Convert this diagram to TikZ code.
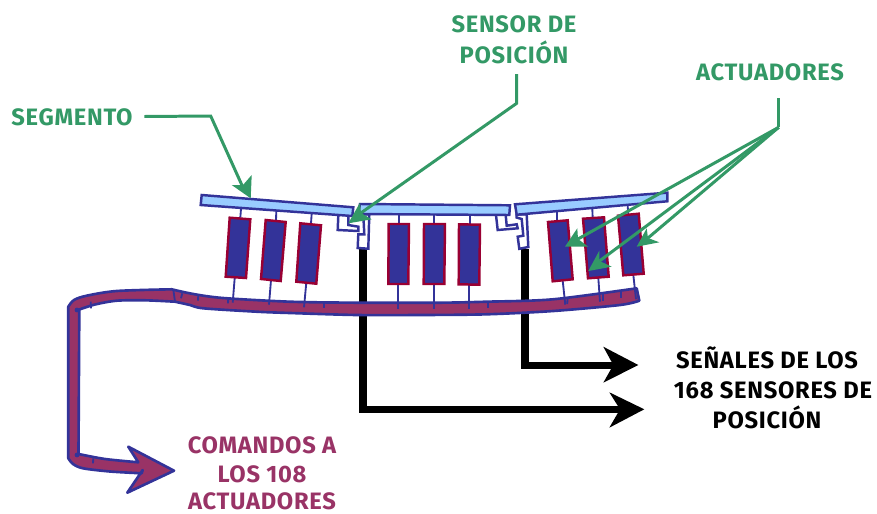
\documentclass[tikz,border=0pt]{standalone}
\usepackage{fontspec}
\setmainfont{Fira Sans}[LetterSpace=3]
\definecolor{gr}{HTML}{339966}
\definecolor{mg}{HTML}{993366}
\definecolor{bl}{HTML}{333399}
\definecolor{rd}{HTML}{990033}
\definecolor{sk}{HTML}{99CCFF}
\tikzset{
  lbl/.style={font=\bfseries\fontsize{13.5}{15}\selectfont,inner sep=0pt,anchor=center},
  greenlbl/.style={lbl,text=gr},
  seg/.style={draw=bl,fill=sk,line width=1.4pt,line join=miter},
  act/.style={draw=rd,fill=bl,line width=1.4pt},
  rod/.style={draw=bl,line width=1.05pt},
  sens/.style={draw=bl,fill=white,line width=1.4pt},
  cable/.style={draw=bl,fill=mg,line width=1.5pt,line join=round},
  tick/.style={draw=bl,line width=1.05pt},
  greenline/.style={draw=gr,line width=1.7pt},
  greenhead/.style={fill=gr,draw=none},
  blackline/.style={draw=black,line width=4.5pt,line join=miter},
}
\begin{document}
\begin{tikzpicture}[x=0.02cm,y=-0.02cm]
\path[use as bounding box,fill=white] (0,0) rectangle (877,514);

% black signal lines (under the cable)
\coordinate (s1) at (363.3,249);
\coordinate (s2) at (525,249);
\coordinate (e1) at (624,409.5);
\coordinate (e2) at (618,365.5);
\draw[blackline] (s1) -- (363.3,409.5) -- (e1);
\draw[blackline] (s2) -- (525,365.5) -- (e2);
\fill[black] (644.3,409.3) -- (609.3,392.3) -- (620,409.3) -- (609.3,427.7) -- cycle;
\fill[black] (638.3,365) -- (603.3,346.7) -- (613.3,365) -- (603.3,382.7) -- cycle;

% cable
\draw[cable] (174,470.7) -- (128.3,446.7) -- (138.3,462.3)
  -- plot[smooth,tension=0.5] coordinates {(138.3,462.3) (105,459) (78.5,454)}
  -- (79.3,309.5)
  -- plot[smooth,tension=0.5] coordinates {(79.3,309.5) (95,304.5) (116.7,300.7) (145,300.3) (175,301.7)}
  -- plot[smooth,tension=0.5] coordinates {(175,301.7) (190,305) (203.3,308.3) (256.7,311.7) (290,313) (356.7,315) (420,315) (486.7,314.3) (553.3,311) (620,305) (639.3,300.7)}
  -- (636.7,288.3)
  -- plot[smooth,tension=0.5] coordinates {(636.7,288.3) (553,299.3) (486.7,301.7) (440,302.7) (356.7,302.7) (290,301.7) (223,298) (193.3,294) (171.7,289.3)}
  -- plot[smooth,tension=0.5] coordinates {(171.7,289.3) (116.7,291) (86.7,295.7) (74,300) (68.3,306.7)}
  -- (68.3,458.3)
  -- plot[smooth,tension=0.5] coordinates {(68.3,458.3) (73,464) (83,468.3) (110,471.5) (141.7,473.3)}
  -- (142.7,470) -- (127.3,492.7) -- cycle;
\draw[tick] (173.3,289.3) -- (175,301.7);
\foreach \xa/\ya/\xb/\yb in {198.3/295/198/300.7, 228.3/297.3/228/303.3, 324.3/301.7/324.3/307.7, 487.7/301.7/487.7/308.3, 567.7/297.3/567.2/304, 603.3/294/603.3/300.7, 620.7/291.7/620.7/298.3, 90.7/301.7/91/308.3, 182.3/293.3/181/298.3, 93.3/458.3/93/463.3}
  \draw[tick] (\xa,\ya) -- (\xb,\yb);
\fill[bl] (77,310) circle (2.4);
\fill[bl] (77,455) circle (2.4);

% rods
\foreach \xa/\ya/\xb/\yb/\xc/\yc/\xd/\yd in {
 241/209/240.3/217.7/234.7/278/232.7/302.7,
 276.3/210.7/276/220.7/271/280/269/304.7,
 311.7/213.3/311/223.3/306.3/282.7/304/307.3,
 399/214.7/399/224/398.3/284/398.3/309.3,
 434/215/434/224/433.7/284/433.7/309,
 469.7/215/469.7/224.3/469.3/285/469.3/309,
 556.7/210.7/556.7/221.3/562.7/280.7/565.3/304.7,
 592.3/208.7/592.7/218/598.3/277.7/600/301.7,
 627.7/206/628.3/214.7/633.3/274.7/636/299.3}{
  \draw[rod] (\xa,\ya) -- (\xb,\yb);
  \draw[rod] (\xc,\yc) -- (\xd,\yd);
}

% actuators
\draw[act] (229.7,217.7) -- (250.3,219.3) -- (246,278) -- (225.7,276.7) -- cycle;
\draw[act] (265.7,220) -- (285.7,222) -- (280.7,281) -- (261,279) -- cycle;
\draw[act] (300.3,223.3) -- (321,225.3) -- (316.3,283.7) -- (296.3,281.7) -- cycle;
\draw[act] (388.7,224) -- (409,224) -- (408.3,284) -- (388.3,284) -- cycle;
\draw[act] (424,224) -- (445,224) -- (444.3,284) -- (423.7,284) -- cycle;
\draw[act] (459,224.3) -- (480,224.7) -- (479.3,284.7) -- (458.7,284.3) -- cycle;
\draw[act] (548,222) -- (567.7,220.3) -- (572.7,279.3) -- (552.7,281.3) -- cycle;
\draw[act] (583,218.7) -- (604,217.3) -- (608.7,276.7) -- (588,278.3) -- cycle;
\draw[act] (618,215.7) -- (638.7,213.7) -- (643.7,273.7) -- (623.3,275.3) -- cycle;

% position sensors
\draw[sens] (338.3,216) -- (337.7,230) -- (358.3,231) -- (358.3,226.7) -- (348.3,225) -- (348.3,216);
\draw[sens] (358.3,234.3) -- (357.7,248) -- (368.3,248.7) -- (369.3,214.3) -- (363.3,214.3) -- (364.3,234.3) -- cycle;
\draw[sens] (496,215) -- (497.7,230) -- (517.7,228.3) -- (516.7,224.3) -- (506.7,225.7) -- (505.7,215);
\draw[sens] (526.7,214.3) -- (528.3,247) -- (519.3,248.8) -- (517.7,236.7) -- (523.3,235.7) -- (521.7,219) -- (516.5,217.5) -- (516.5,214.5) -- cycle;

% segments
\draw[seg] (201.7,195) -- (353.3,207.3) -- (352.3,216) -- (200.7,205) -- cycle;
\draw[seg] (360,204) -- (510,205.3) -- (509.3,215) -- (358,214) -- cycle;
\draw[seg] (515,204.3) -- (667.3,192.7) -- (667.3,201.3) -- (516.7,214.7) -- cycle;

% labels
\node[greenlbl] (lseg) at (72,117) {SEGMENTO};
\node[greenlbl] (lsen1) at (514,24) {SENSOR DE};
\node[greenlbl] (lsen2) at (514,52) {POSICIÓN};
\node[greenlbl] (lact) at (770,72) {ACTUADORES};
\node[lbl,text=black] (ls1) at (767,358) {SEÑALES DE LOS};
\node[lbl,text=black] (ls2) at (773,390) {168 SENSORES DE};
\node[lbl,text=black] (ls3) at (767,417) {POSICIÓN};
\node[lbl,text=mg] (lc1) at (262,445) {COMANDOS A};
\node[lbl,text=mg] (lc2) at (262,474) {LOS 108};
\node[lbl,text=mg] (lc3) at (262,501) {ACTUADORES};

% green leaders
\coordinate (ga) at (144.3,116.5);
\coordinate (gb) at (210.7,116);
\coordinate (ta) at (245,192);
\draw[greenline] (ga) -- (gb) -- (ta);
\fill[greenhead] (250.7,198.3) -- (231.7,185) -- (243,185) -- (251.7,175) -- cycle;

\coordinate (sa) at (516.7,74);
\coordinate (sb) at (516.7,103.3);
\coordinate (tb) at (358,215);
\draw[greenline] (sa) -- (sb) -- (tb);
\fill[greenhead] (348.3,223.3) -- (360,202.7) -- (361,213) -- (371.7,219.3) -- cycle;

\coordinate (aa) at (778.7,98.3);
\coordinate (ab) at (778.7,127.3);
\coordinate (t1) at (578,239);
\coordinate (t2) at (599.5,261);
\coordinate (t3) at (648,238);
\draw[greenline] (aa) -- (ab);
\draw[greenline] (ab) -- (t1);
\draw[greenline] (ab) -- (t2);
\draw[greenline] (ab) -- (t3);
\fill[greenhead] (565,246.7) -- (577.3,228.3) -- (578,239) -- (588.3,246.7) -- cycle;
\fill[greenhead] (588.3,271) -- (599.3,250.7) -- (599.5,261) -- (611.7,266.7) -- cycle;
\fill[greenhead] (636.7,246.7) -- (646.7,228.3) -- (648,238) -- (659.3,242.3) -- cycle;
\end{tikzpicture}
\end{document}
